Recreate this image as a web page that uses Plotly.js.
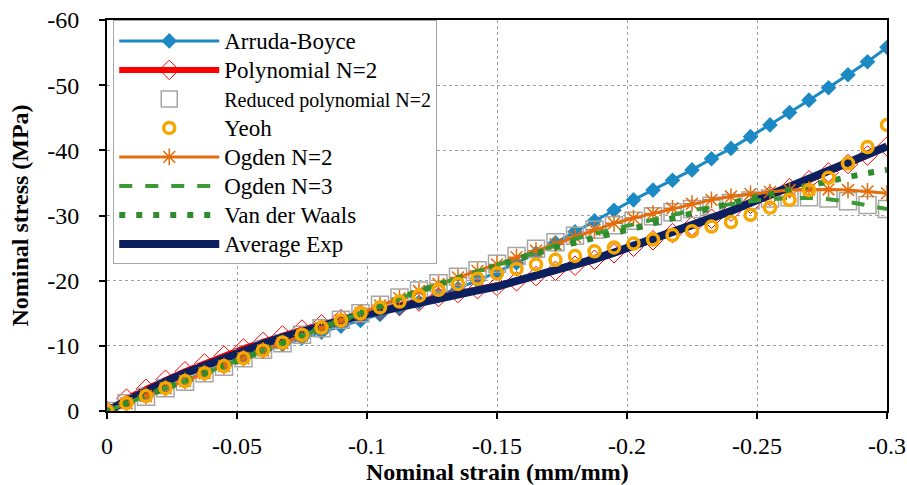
<!DOCTYPE html>
<html>
<head>
<meta charset="utf-8">
<script src="https://cdn.plot.ly/plotly-3.0.1.min.js"></script>
<style>
html,body{margin:0;padding:0;background:#fff;}
#chart{width:907px;height:485px;}
</style>
</head>
<body>
<div id="chart"></div>
<script>
// Nominal strain (mm/mm)
const strain = [0,-0.0075,-0.015,-0.0225,-0.03,-0.0375,-0.045,-0.0525,-0.06,-0.0675,-0.075,-0.0825,-0.09,-0.0975,-0.105,-0.1125,-0.12,-0.1275,-0.135,-0.1425,-0.15,-0.1575,-0.165,-0.1725,-0.18,-0.1875,-0.195,-0.2025,-0.21,-0.2175,-0.225,-0.2325,-0.24,-0.2475,-0.255,-0.2625,-0.27,-0.2775,-0.285,-0.2925,-0.3];

// Nominal stress (MPa)
const arrudaBoyce = [0,-1.2,-2.4,-3.6,-4.8,-6.0,-7.1,-8.2,-9.2,-10.2,-11.2,-12.1,-13.0,-13.9,-14.8,-15.7,-16.7,-17.7,-18.8,-20.0,-21.3,-22.7,-24.2,-25.8,-27.5,-29.2,-30.8,-32.4,-33.9,-35.4,-37.0,-38.7,-40.3,-42.1,-43.9,-45.8,-47.7,-49.6,-51.6,-53.6,-55.8];
const polynomialN2 = [0,-1.9,-3.4,-4.8,-6.1,-7.3,-8.5,-9.6,-10.6,-11.6,-12.5,-13.3,-14.1,-14.9,-15.5,-16.2,-16.8,-17.5,-18.1,-18.7,-19.2,-19.9,-20.7,-21.5,-22.3,-23.2,-24.2,-25.2,-26.2,-27.3,-28.4,-29.5,-30.6,-31.8,-33.0,-34.2,-35.4,-36.6,-37.9,-39.2,-40.6];
const reducedPolyN2 = [0,-1.2,-2.2,-3.5,-4.5,-5.8,-6.8,-8.1,-9.4,-10.4,-11.7,-12.7,-14.0,-15.0,-16.3,-17.4,-18.5,-19.6,-20.6,-21.6,-22.6,-23.8,-24.9,-25.9,-26.9,-27.8,-28.5,-29.2,-29.9,-30.5,-31.0,-31.5,-31.9,-32.3,-32.6,-32.8,-32.8,-32.6,-32.2,-31.6,-31.0];
const yeoh = [0,-1.2,-2.3,-3.5,-4.6,-5.8,-6.9,-8.1,-9.3,-10.5,-11.7,-12.8,-13.9,-15.0,-15.9,-16.8,-17.7,-18.6,-19.5,-20.3,-21.1,-21.8,-22.5,-23.2,-23.8,-24.5,-25.1,-25.7,-26.3,-27.0,-27.6,-28.3,-29.0,-30.1,-31.2,-32.4,-33.9,-35.8,-38.0,-40.5,-43.9];
const ogdenN2 = [0,-1.2,-2.3,-3.5,-4.6,-5.8,-6.9,-8.1,-9.3,-10.4,-11.6,-12.7,-13.9,-15.0,-16.2,-17.3,-18.4,-19.5,-20.5,-21.5,-22.5,-23.6,-24.6,-25.6,-26.7,-27.8,-28.8,-29.6,-30.3,-31.1,-31.8,-32.4,-32.9,-33.3,-33.6,-33.9,-34.0,-34.0,-33.9,-33.7,-33.4];
const ogdenN3 = [0,-1.2,-2.3,-3.5,-4.6,-5.8,-6.9,-8.1,-9.3,-10.4,-11.6,-12.7,-13.9,-15.0,-16.2,-17.3,-18.4,-19.4,-20.4,-21.4,-22.4,-23.5,-24.5,-25.5,-26.4,-27.2,-27.9,-28.7,-29.4,-30.1,-30.8,-31.3,-31.8,-32.2,-32.5,-32.7,-32.7,-32.5,-32.1,-31.6,-31.0];
const vanDerWaals = [0,-1.2,-2.3,-3.5,-4.6,-5.8,-6.9,-8.1,-9.3,-10.4,-11.6,-12.7,-13.9,-15.0,-16.2,-17.3,-18.4,-19.4,-20.4,-21.4,-22.3,-23.3,-24.2,-25.1,-25.9,-26.6,-27.3,-28.0,-28.8,-29.7,-30.5,-31.2,-31.9,-32.6,-33.3,-34.0,-34.6,-35.3,-35.9,-36.5,-37.0];
const averageExp = [0,-1.6,-3.1,-4.5,-5.8,-7.0,-8.2,-9.3,-10.3,-11.3,-12.2,-13.0,-13.9,-14.7,-15.3,-16.0,-16.6,-17.3,-17.9,-18.5,-19.1,-19.9,-20.7,-21.5,-22.4,-23.3,-24.3,-25.3,-26.3,-27.4,-28.5,-29.6,-30.7,-31.9,-33.1,-34.3,-35.5,-36.7,-37.9,-39.2,-40.6];

const xTickVals = [0,-0.05,-0.1,-0.15,-0.2,-0.25,-0.3];
const xTickText = ['0','-0.05','-0.1','-0.15','-0.2','-0.25','-0.3'];
const yTickVals = [0,-10,-20,-30,-40,-50,-60];
const yTickText = ['0','-10','-20','-30','-40','-50','-60'];
const xTitle = 'Nominal strain (mm/mm)';
const yTitle = 'Nominal stress (MPa)';

const FONT = "'Liberation Serif', 'Times New Roman', serif";
const big = s => '<span style="font-size:23px">' + s + '</span>';

const traces = [
  {name:big('Arruda-Boyce'), x:strain, y:arrudaBoyce, mode:'lines+markers', legendrank:1, legendgroup:'a',
   line:{color:'#1b8ac4', width:3}, marker:{symbol:'diamond', size:12, color:'#1b8ac4'}},
  {name:big('Polynomial N=2'), x:strain, y:polynomialN2, mode:'lines+markers', legendrank:2, legendgroup:'b',
   line:{color:'#ff0000', width:6}, marker:{symbol:'diamond-open', size:15, color:'#ff0000', line:{width:1, color:'#ff0000'}}},
  {name:'Reduced polynomial N=2', x:strain, y:reducedPolyN2, mode:'markers', legendrank:3, legendgroup:'c',
   marker:{symbol:'square-open', size:17, color:'#a6a6a6', line:{width:1.5, color:'#a6a6a6'}}},
  {name:big('Average Exp'), x:strain, y:averageExp, mode:'lines', legendrank:8, legendgroup:'h',
   line:{color:'#0c1f5e', width:8}},
  {name:big('Ogden N=2'), x:strain, y:ogdenN2, mode:'lines+markers', legendrank:5, legendgroup:'e',
   line:{color:'#e46c0a', width:3}, marker:{symbol:'asterisk-open', size:14, color:'#e46c0a', line:{width:1.5, color:'#e46c0a'}}},
  {name:big('Ogden N=3'), x:strain, y:ogdenN3, mode:'lines', legendrank:6, legendgroup:'f',
   line:{color:'#3c9a34', width:4, dash:'13px,13px'}},
  {name:big('Van der Waals'), x:strain, y:vanDerWaals, mode:'lines', legendrank:7, legendgroup:'g',
   line:{color:'#2e8b2e', width:6, dash:'6px,11px'}},
  {name:big('Yeoh'), x:strain, y:yeoh, mode:'markers', legendrank:4, legendgroup:'d',
   marker:{symbol:'circle-open', size:11, color:'#f5a800', line:{width:3.5, color:'#f5a800'}}}
];

const layout = {
  width:907, height:485,
  margin:{l:107, r:20, t:20, b:74},
  paper_bgcolor:'#ffffff', plot_bgcolor:'#ffffff',
  font:{family:FONT, size:20, color:'#000'},
  showlegend:true,
  legend:{x:0.008, y:0.999, xanchor:'left', yanchor:'top', bgcolor:'#ffffff',
          bordercolor:'#a6a6a6', borderwidth:1, font:{family:FONT, size:20, color:'#000'},
          itemwidth:100, tracegroupgap:1, traceorder:'normal'},
  xaxis:{range:[0,-0.3], autorange:false, tickvals:xTickVals, ticktext:xTickText,
         showgrid:true, gridcolor:'#a0a0a0', griddash:'dot', gridwidth:1,
         showline:true, linecolor:'#000', linewidth:2, mirror:true,
         ticks:'outside', ticklen:6, tickwidth:1.5, tickcolor:'#000', zeroline:false,
         ticklabelstandoff:6,
         tickfont:{family:FONT, size:24, color:'#000'}},
  yaxis:{range:[0,-60], autorange:false, tickvals:yTickVals, ticktext:yTickText,
         showgrid:true, gridcolor:'#a0a0a0', griddash:'dot', gridwidth:1,
         showline:true, linecolor:'#000', linewidth:2, mirror:true,
         ticks:'outside', ticklen:6, tickwidth:1.5, tickcolor:'#000', zeroline:false,
         ticklabelstandoff:15,
         tickfont:{family:FONT, size:24, color:'#000'},
         title:{text:'<b>' + yTitle + '</b>', font:{family:FONT, size:24, color:'#000'}, standoff:12}},
  annotations:[{text:'<b>' + xTitle + '</b>', xref:'paper', yref:'paper', x:0.5, y:0,
                xanchor:'center', yanchor:'middle', yshift:-61, showarrow:false,
                font:{family:FONT, size:24, color:'#000'}}]
};

Plotly.newPlot('chart', traces, layout, {displayModeBar:false, responsive:false});
</script>
</body>
</html>
